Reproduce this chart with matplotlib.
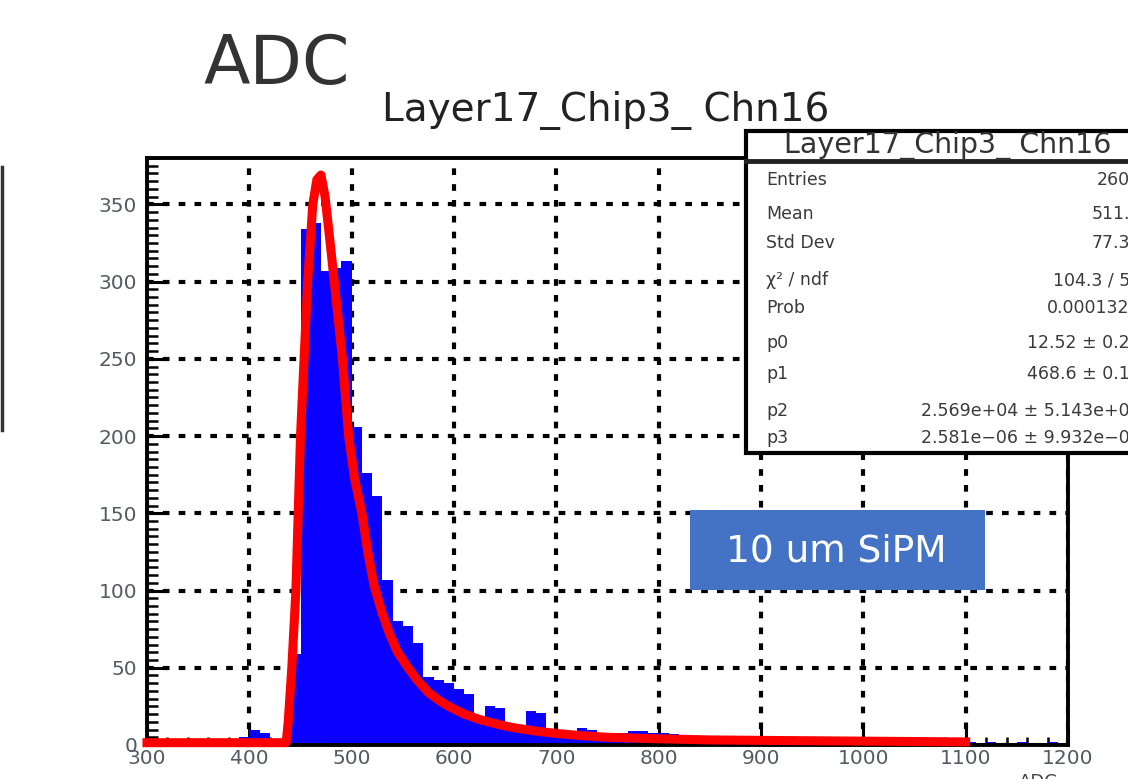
import matplotlib
matplotlib.use('Agg')
import matplotlib.pyplot as plt
import numpy as np
from matplotlib.ticker import MultipleLocator
from matplotlib.patches import Rectangle
from matplotlib.lines import Line2D

# histogram: 90 bins of 10 ADC between 300 and 1200
bin_edges = np.arange(300, 1201, 10)
counts = [0, 0, 0, 0, 0, 0, 0, 0,
          1, 5, 10, 8, 2, 3, 59, 334, 338, 307, 309, 313,
          206, 176, 161, 107, 80, 77, 66, 44, 42, 40,
          36, 33, 16, 25, 24, 10, 9, 22, 21, 10,
          9, 8, 11, 10, 6, 5, 8, 9, 9, 8,
          8, 7, 5, 3,
          3, 2, 3, 2, 2, 3,
          2, 2, 1, 2, 2, 1, 2, 1, 2, 2,
          1, 2, 1, 1, 2, 1, 1, 2, 1, 1,
          2, 1, 2, 1, 1, 2, 1, 1, 2, 1]

# fitted curve
fit_x = [300, 436, 438, 441.5, 445.5, 450, 453.5, 457, 462, 466, 470, 474, 479,
         483, 491, 497, 503, 510, 516, 522, 530, 537, 545, 554, 564, 575, 585,
         595, 610, 625, 645, 660, 680, 700, 725, 750, 800, 850, 900, 1000, 1100]
fit_y = [1.5, 1.5, 15, 50, 100, 200, 250, 300, 350, 366, 369, 355, 325,
         300, 250, 200, 172, 150, 124, 103, 85, 72, 60, 51, 42, 34, 29,
         25, 20, 16.5, 13, 11, 9, 7.5, 6, 5, 4, 3.3, 3, 2.5, 2]

stat_labels = ['Entries', 'Mean', 'Std Dev', 'χ² / ndf', 'Prob', 'p0', 'p1', 'p2', 'p3']
stat_values = ['2600', '511.8', '77.30', '104.3 / 52', '0.0001329', '12.52 ± 0.26',
               '468.6 ± 0.18', '2.569e+04 ± 5.143e+02', '2.581e−06 ± 9.932e−07']
stat_rows_px = [180, 214, 243, 280, 308, 343, 374, 411, 438]

W, H = 1128, 779


def fx(px):
    return px / W


def fy(py):
    return 1 - py / H


plt.rcParams['font.family'] = ['DejaVu Sans']

fig = plt.figure(figsize=(11.28, 7.79), dpi=100)
ax = fig.add_axes([fx(147), fy(745), fx(1068) - fx(147), fy(158) - fy(745)])

ax.stairs(counts, bin_edges, fill=True, color='#0a00ff', zorder=2)
ax.plot(fit_x, fit_y, color='#ff0000', lw=6.5, zorder=3, clip_on=False)

ax.set_xlim(300, 1200)
ax.set_ylim(0, 380)
ax.xaxis.set_major_locator(MultipleLocator(100))
ax.xaxis.set_minor_locator(MultipleLocator(20))
ax.yaxis.set_major_locator(MultipleLocator(50))
ax.yaxis.set_minor_locator(MultipleLocator(5))
ax.tick_params(which='both', direction='in', top=False, right=False,
               labelcolor='#555a62', labelsize=14.5)
ax.tick_params(axis='y', which='major', length=15, width=2.2, pad=7)
ax.tick_params(axis='y', which='minor', length=8, width=1.8)
ax.tick_params(axis='x', which='major', length=12, width=2.2, pad=3)
ax.tick_params(axis='x', which='minor', length=6, width=1.8)
ax.grid(which='major', color='black', linestyle=(0, (1.6, 2.2)), linewidth=3)
ax.set_axisbelow(True)
for s in ax.spines.values():
    s.set_linewidth(2.8)

# titles
fig.text(fx(203), fy(84), 'ADC', fontsize=49, color='#333333', ha='left', va='baseline')
fig.text(fx(606), fy(121), 'Layer17_Chip3_ Chn16', fontsize=28, color='#222222',
         ha='center', va='baseline')
fig.text(fx(1058), fy(773), 'ADC', fontsize=13, color='#444444', ha='right', va='top')

# stats box
fig.add_artist(Rectangle((fx(746), fy(453)), fx(1170) - fx(746), fy(131) - fy(453),
                         transform=fig.transFigure, facecolor='white',
                         edgecolor='black', linewidth=3, zorder=5))
fig.add_artist(Line2D([fx(746), fx(1170)], [fy(161), fy(161)], transform=fig.transFigure,
                      color='#222222', lw=3.5, zorder=6))
fig.text(fx(948), fy(153), 'Layer17_Chip3_ Chn16', fontsize=20.5, color='#333333',
         ha='center', va='baseline', zorder=7)
for lab, val, ypx in zip(stat_labels, stat_values, stat_rows_px):
    fig.text(fx(766), fy(ypx), lab, fontsize=12.5, color='#3a3a3a',
             ha='left', va='center', zorder=7)
    fig.text(fx(1141), fy(ypx), val, fontsize=12.5, color='#3a3a3a',
             ha='right', va='center', zorder=7)

# blue label box
fig.add_artist(Rectangle((fx(690), fy(590)), fx(985) - fx(690), fy(510) - fy(590),
                         transform=fig.transFigure, facecolor='#4472c4',
                         edgecolor='none', zorder=5))
fig.text(fx(836), fy(551), '10 um SiPM', fontsize=27, color='white',
         ha='center', va='center', zorder=7)

# left edge remnant
fig.add_artist(Line2D([fx(2), fx(2)], [fy(167), fy(430)], transform=fig.transFigure,
                      color='#333333', lw=2.5))

fig.savefig('out.png', dpi=100)
plt.close(fig)
